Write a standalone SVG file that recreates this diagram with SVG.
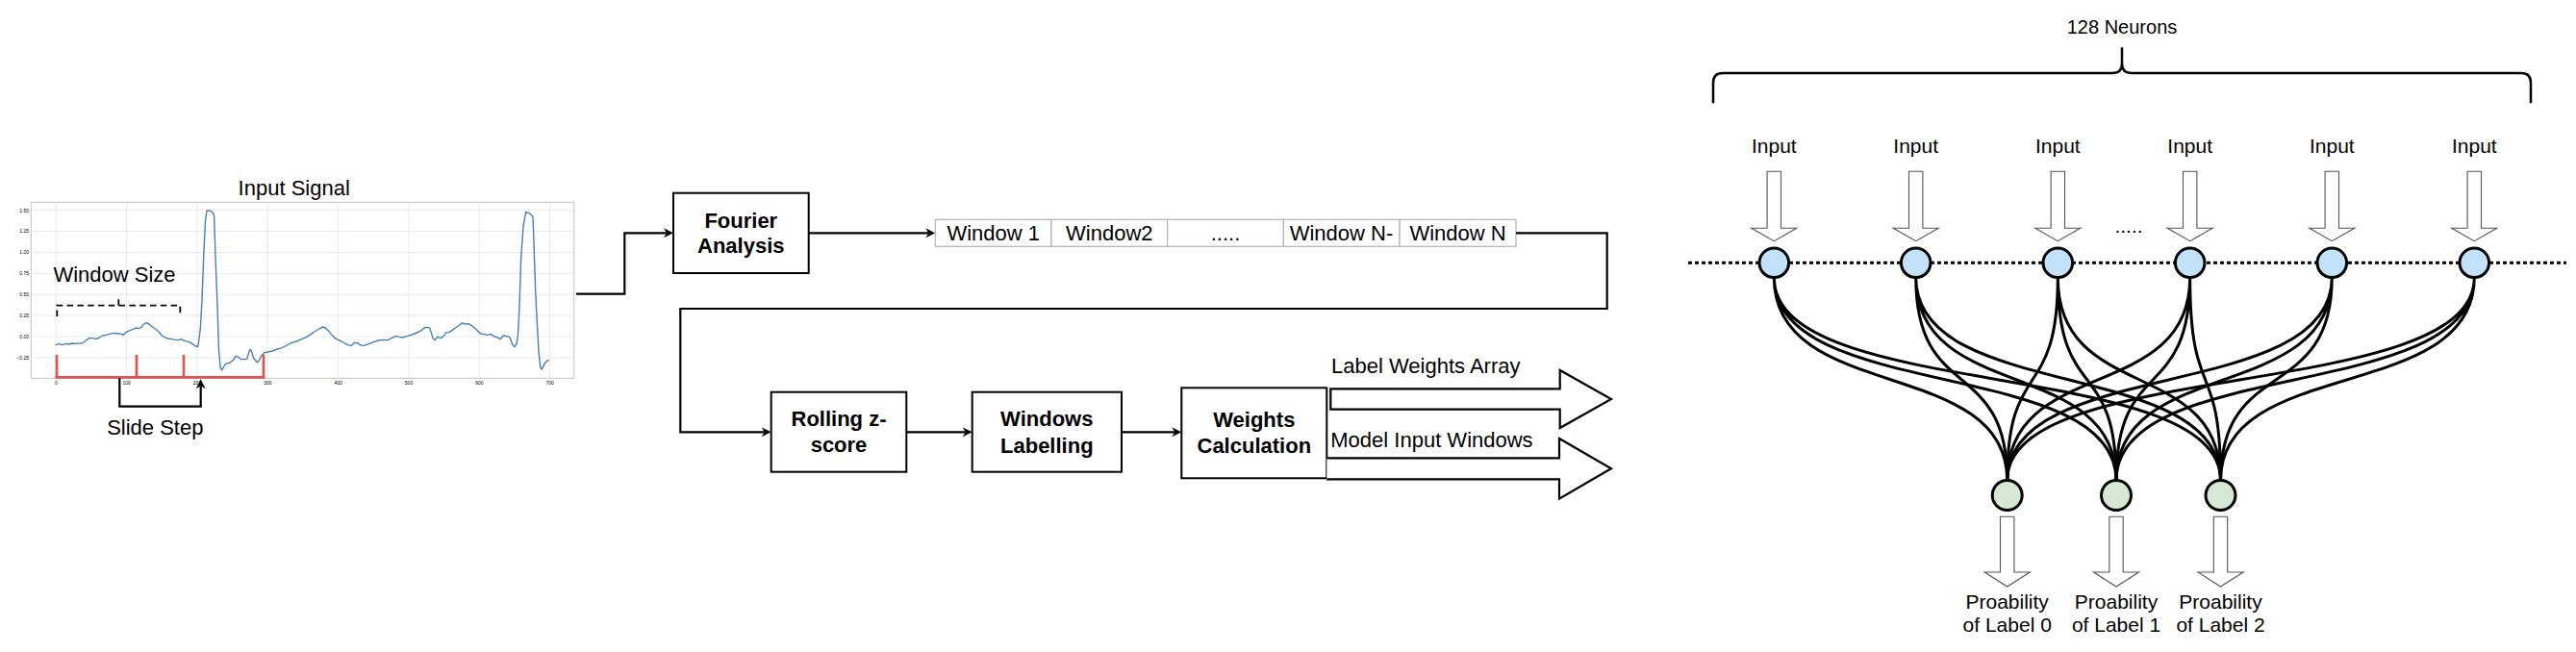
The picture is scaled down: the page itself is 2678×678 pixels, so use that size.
<svg xmlns="http://www.w3.org/2000/svg" width="2678" height="678" viewBox="0 0 2678 678">
<style>
text{font-family:"Liberation Sans",Arial,sans-serif;fill:#000}
.t22{font-size:22px}
.b22{font-size:22px;font-weight:bold}
.t21{font-size:21px}
.mid{text-anchor:middle}
.box{fill:#fff;stroke:#000;stroke-width:2}
.cell{fill:#fff;stroke:#b3b3b3;stroke-width:1.2}
.conn{fill:none;stroke:#000;stroke-width:2.2}
.grid{stroke:#e4e4e4;stroke-width:0.8}
.tick{font-size:5px;fill:#444}
.hollow{fill:#fff;stroke:#555;stroke-width:1.1}
.inN{fill:#c3e1f9;stroke:#000;stroke-width:3}
.outN{fill:#d5e8d4;stroke:#000;stroke-width:3}
.edge{fill:none;stroke:#000;stroke-width:3}
.red{fill:none;stroke:#e0534e;stroke-width:2.7}
</style>
<defs>
<marker id="ah" viewBox="0 0 10 10" refX="3" refY="5" markerWidth="10" markerHeight="10" markerUnits="userSpaceOnUse" orient="auto">
<path d="M0,0 L10,5 L0,10 L3,5 Z" fill="#000"/>
</marker>
</defs>

<g id="input-signal">
<text class="t22 mid" x="305.7" y="203.3">Input Signal</text>
<rect x="32.3" y="210.3" width="564.4" height="183" fill="#fff" stroke="#c4c4c4" stroke-width="1"/>
<g class="grid">
<line x1="58.3" y1="210.3" x2="58.3" y2="393.3"/>
<line x1="131.6" y1="210.3" x2="131.6" y2="393.3"/>
<line x1="205" y1="210.3" x2="205" y2="393.3"/>
<line x1="278.3" y1="210.3" x2="278.3" y2="393.3"/>
<line x1="351.6" y1="210.3" x2="351.6" y2="393.3"/>
<line x1="425" y1="210.3" x2="425" y2="393.3"/>
<line x1="498.3" y1="210.3" x2="498.3" y2="393.3"/>
<line x1="571.6" y1="210.3" x2="571.6" y2="393.3"/>
<line x1="32.3" y1="218.7" x2="596.7" y2="218.7"/>
<line x1="32.3" y1="240.6" x2="596.7" y2="240.6"/>
<line x1="32.3" y1="262.5" x2="596.7" y2="262.5"/>
<line x1="32.3" y1="284.4" x2="596.7" y2="284.4"/>
<line x1="32.3" y1="306.2" x2="596.7" y2="306.2"/>
<line x1="32.3" y1="328.1" x2="596.7" y2="328.1"/>
<line x1="32.3" y1="350" x2="596.7" y2="350"/>
<line x1="32.3" y1="372" x2="596.7" y2="372"/>
</g>
<g class="tick" text-anchor="end">
<text x="30" y="220.5">1.50</text>
<text x="30" y="242.4">1.25</text>
<text x="30" y="264.3">1.00</text>
<text x="30" y="286.2">0.75</text>
<text x="30" y="308">0.50</text>
<text x="30" y="329.9">0.25</text>
<text x="30" y="351.8">0.00</text>
<text x="30" y="373.8">−0.25</text>
</g>
<g class="tick" text-anchor="middle">
<text x="58.3" y="399.5">0</text>
<text x="131.6" y="399.5">100</text>
<text x="205" y="399.5">200</text>
<text x="278.3" y="399.5">300</text>
<text x="351.6" y="399.5">400</text>
<text x="425" y="399.5">500</text>
<text x="498.3" y="399.5">600</text>
<text x="571.6" y="399.5">700</text>
</g>
<path transform="translate(20 185) scale(0.3333333)" fill="none" stroke="#4a7fb6" stroke-width="4.2" stroke-linejoin="round" d="M112,520 L125,518 135,521 145,517 155,519 165,516 175,517 190,516 200,514 210,505 220,499 230,500 240,503 250,498 260,492 270,490 280,488 290,485 300,484 310,486 320,487 325,490 335,480 345,476 355,472 365,468 370,470 380,467 390,455 397,452 405,456 415,465 425,471 435,480 445,492 455,498 465,502 475,502 485,505 495,506 505,503 515,508 530,512 540,518 550,525 557,527 560,510 565,470 570,380 575,250 580,140 585,102 595,102 605,110 608,120 612,250 618,400 622,530 627,590 632,600 640,585 648,578 655,578 660,574 668,567 675,556 685,560 692,566 700,566 710,565 716,545 720,535 724,540 730,560 735,567 742,575 748,570 755,555 765,545 775,543 790,540 805,534 820,530 835,522 850,514 865,510 880,503 895,497 910,488 920,480 930,474 940,468 947,465 955,468 965,478 975,490 985,500 995,505 1005,510 1015,516 1025,521 1035,524 1045,514 1055,515 1065,522 1075,523 1090,518 1105,512 1120,507 1135,505 1150,506 1165,498 1175,493 1185,496 1195,498 1210,494 1225,489 1240,483 1250,478 1258,473 1265,466 1280,467 1284,480 1290,500 1296,506 1305,496 1315,500 1325,492 1330,483 1340,482 1350,476 1360,468 1370,462 1380,453 1390,456 1400,455 1410,460 1420,468 1430,478 1440,486 1450,488 1460,490 1470,487 1480,494 1490,497 1500,503 1510,492 1520,494 1530,497 1538,520 1545,527 1552,515 1556,480 1560,400 1565,250 1572,150 1580,106 1590,110 1602,120 1605,200 1610,350 1615,450 1620,540 1625,590 1630,597 1638,580 1645,572 1652,568"/>
</g>

<g id="window-size">
<path d="M59.3,329 V317.7 H187.3 V329 M123.3,317.7 V307.7" fill="none" stroke="#000" stroke-width="1.8" stroke-dasharray="6.5 4.3"/>
<text class="t22 mid" x="119" y="293.3">Window Size</text>
</g>

<g id="slide-windows">
<path class="red" d="M57.3,392.3 H275.5 M59,392.3 V369 M142,392.3 V369 M191,392.3 V369 M274,392.3 V369"/>
</g>

<g id="slide-step">
<text class="t22 mid" x="161.3" y="451.7">Slide Step</text>
</g>

<g id="fourier-analysis">
<rect class="box" x="700" y="200.7" width="140.7" height="83.3"/>
<text class="b22 mid" x="770.3" y="236.7">Fourier</text>
<text class="b22 mid" x="770.3" y="262.7">Analysis</text>
</g>

<g id="windows-array">
<rect class="cell" x="972.3" y="228.3" width="120.7" height="28"/>
<rect class="cell" x="1093" y="228.3" width="120.7" height="28"/>
<rect class="cell" x="1213.7" y="228.3" width="120.7" height="28"/>
<rect class="cell" x="1334.4" y="228.3" width="120.7" height="28"/>
<rect class="cell" x="1455.1" y="228.3" width="120.9" height="28"/>
<text class="t22 mid" x="1032.7" y="250">Window 1</text>
<text class="t22 mid" x="1153.3" y="250">Window2</text>
<text class="t22 mid" x="1274" y="250">.....</text>
<text class="t22 mid" x="1394.5" y="250">Window N-</text>
<text class="t22 mid" x="1515.5" y="250">Window N</text>
</g>

<g id="rolling-zscore">
<rect class="box" x="801.7" y="407.7" width="140.6" height="83"/>
<text class="b22 mid" x="872" y="443.3">Rolling z-</text>
<text class="b22 mid" x="872" y="470">score</text>
</g>

<g id="windows-labelling">
<rect class="box" x="1010.7" y="407.7" width="155.3" height="83"/>
<text class="b22 mid" x="1088.3" y="443.3">Windows</text>
<text class="b22 mid" x="1088.3" y="471">Labelling</text>
</g>

<g id="weights-calculation">
<rect class="box" x="1228.3" y="403.3" width="151" height="94"/>
<text class="b22 mid" x="1303.8" y="444.3">Weights</text>
<text class="b22 mid" x="1303.8" y="471">Calculation</text>
</g>

<g id="label-weights-array">
<path d="M1383.3,404.3 H1621.7 V385 L1675,415 L1621.7,445 V425.7 H1383.3 Z" fill="#fff" stroke="#000" stroke-width="2.2"/>
<text class="t22" x="1384" y="388.3">Label Weights Array</text>
</g>

<g id="model-input-windows">
<path d="M1379.3,476.3 H1621 V456 L1675,487.3 L1621,518.6 V498.3 H1379.3" fill="#fff" stroke="#000" stroke-width="2.2"/>
<text class="t22" x="1383.3" y="465">Model Input Windows</text>
</g>

<g id="connectors">
<path class="conn" d="M124.3,393.3 V422.7 H208.7 V401.3" marker-end="url(#ah)"/>
<path class="conn" d="M599,305.7 H649.3 V242.3 H693" marker-end="url(#ah)"/>
<path class="conn" d="M840.7,242.3 H965.3" marker-end="url(#ah)"/>
<path class="conn" d="M1576,242.3 H1670.7 V321 H707.3 V449.3 H794.7" marker-end="url(#ah)"/>
<path class="conn" d="M942.3,449.3 H1003.7" marker-end="url(#ah)"/>
<path class="conn" d="M1166,449.3 H1221.3" marker-end="url(#ah)"/>
</g>

<g id="neurons-brace">
<path d="M1781,107.3 V86 Q1781,76 1791,76 H2196 Q2206,76 2206,66 V49.3 M2206,66 Q2206,76 2216,76 H2621 Q2631,76 2631,86 V107.3" fill="none" stroke="#000" stroke-width="2.5"/>
<text class="mid" style="font-size:20px" x="2206" y="35">128 Neurons</text>
</g>

<g id="dense-connections">
<path class="edge" d="M1844.3,288.5 C1844.3,420 2086.7,370 2086.7,499.5 M1844.3,288.5 C1844.3,420 2200,370 2200,499.5 M1844.3,288.5 C1844.3,420 2308.5,370 2308.5,499.5"/>
<path class="edge" d="M1991.7,288.5 C1991.7,420 2086.7,370 2086.7,499.5 M1991.7,288.5 C1991.7,420 2200,370 2200,499.5 M1991.7,288.5 C1991.7,420 2308.5,370 2308.5,499.5"/>
<path class="edge" d="M2139.3,288.5 C2139.3,420 2086.7,370 2086.7,499.5 M2139.3,288.5 C2139.3,420 2200,370 2200,499.5 M2139.3,288.5 C2139.3,420 2308.5,370 2308.5,499.5"/>
<path class="edge" d="M2276.7,288.5 C2276.7,420 2086.7,370 2086.7,499.5 M2276.7,288.5 C2276.7,420 2200,370 2200,499.5 M2276.7,288.5 C2276.7,420 2308.5,370 2308.5,499.5"/>
<path class="edge" d="M2424.3,288.5 C2424.3,420 2086.7,370 2086.7,499.5 M2424.3,288.5 C2424.3,420 2200,370 2200,499.5 M2424.3,288.5 C2424.3,420 2308.5,370 2308.5,499.5"/>
<path class="edge" d="M2572.3,288.5 C2572.3,420 2086.7,370 2086.7,499.5 M2572.3,288.5 C2572.3,420 2200,370 2200,499.5 M2572.3,288.5 C2572.3,420 2308.5,370 2308.5,499.5"/>
</g>

<g id="input-layer-line">
<line x1="1755" y1="273.3" x2="2668" y2="273.3" stroke="#000" stroke-width="3" stroke-dasharray="4 3"/>
<text class="t21 mid" x="2213" y="242">.....</text>
</g>

<g id="input-1">
<text class="t21 mid" x="1844.3" y="159.3">Input</text>
<path class="hollow" d="M1837.1,178.3 H1851.5 V237.3 H1867.8 L1844.3,250.7 L1820.8,237.3 H1837.1 Z"/>
<circle class="inN" cx="1844.3" cy="273.3" r="15.3"/>
</g>
<g id="input-2">
<text class="t21 mid" x="1991.7" y="159.3">Input</text>
<path class="hollow" d="M1984.5,178.3 H1998.9 V237.3 H2015.2 L1991.7,250.7 L1968.2,237.3 H1984.5 Z"/>
<circle class="inN" cx="1991.7" cy="273.3" r="15.3"/>
</g>
<g id="input-3">
<text class="t21 mid" x="2139.3" y="159.3">Input</text>
<path class="hollow" d="M2132.1,178.3 H2146.5 V237.3 H2162.8 L2139.3,250.7 L2115.8,237.3 H2132.1 Z"/>
<circle class="inN" cx="2139.3" cy="273.3" r="15.3"/>
</g>
<g id="input-4">
<text class="t21 mid" x="2276.7" y="159.3">Input</text>
<path class="hollow" d="M2269.5,178.3 H2283.9 V237.3 H2300.2 L2276.7,250.7 L2253.2,237.3 H2269.5 Z"/>
<circle class="inN" cx="2276.7" cy="273.3" r="15.3"/>
</g>
<g id="input-5">
<text class="t21 mid" x="2424.3" y="159.3">Input</text>
<path class="hollow" d="M2417.1,178.3 H2431.5 V237.3 H2447.8 L2424.3,250.7 L2400.8,237.3 H2417.1 Z"/>
<circle class="inN" cx="2424.3" cy="273.3" r="15.3"/>
</g>
<g id="input-6">
<text class="t21 mid" x="2572.3" y="159.3">Input</text>
<path class="hollow" d="M2565.1,178.3 H2579.5 V237.3 H2595.8 L2572.3,250.7 L2548.8,237.3 H2565.1 Z"/>
<circle class="inN" cx="2572.3" cy="273.3" r="15.3"/>
</g>

<g id="output-0">
<circle class="outN" cx="2086.7" cy="515" r="15.5"/>
<path class="hollow" d="M2079.5,537.3 H2093.9 V595 H2110.2 L2086.7,610 L2063.2,595 H2079.5 Z"/>
<text class="t21 mid" x="2086.7" y="633.3">Proability</text>
<text class="t21 mid" x="2086.7" y="656.7">of Label 0</text>
</g>
<g id="output-1">
<circle class="outN" cx="2200" cy="515" r="15.5"/>
<path class="hollow" d="M2192.8,537.3 H2207.2 V595 H2223.5 L2200,610 L2176.5,595 H2192.8 Z"/>
<text class="t21 mid" x="2200" y="633.3">Proability</text>
<text class="t21 mid" x="2200" y="656.7">of Label 1</text>
</g>
<g id="output-2">
<circle class="outN" cx="2308.5" cy="515" r="15.5"/>
<path class="hollow" d="M2301.3,537.3 H2315.7 V595 H2332 L2308.5,610 L2285,595 H2301.3 Z"/>
<text class="t21 mid" x="2308.5" y="633.3">Proability</text>
<text class="t21 mid" x="2308.5" y="656.7">of Label 2</text>
</g>
</svg>
